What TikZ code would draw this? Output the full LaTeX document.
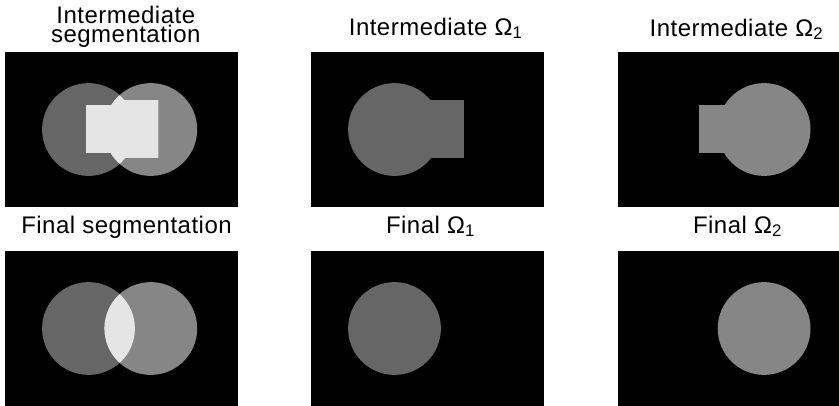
\documentclass[tikz,border=0pt]{standalone}
\usepackage{fontspec}
\setmainfont{Liberation Sans}
\usetikzlibrary{positioning}
\definecolor{segdark}{HTML}{666666}
\definecolor{segmid}{HTML}{868686}
\definecolor{seglight}{HTML}{E5E5E5}

% the two discs and the two bars, in panel coordinates
\newcommand{\discA}{(83.5,77.5) circle (46.4)}
\newcommand{\discB}{(145.8,77.5) circle (46.4)}
\newcommand{\barA}{(83.5,48) rectangle (153.3,105.7)}
\newcommand{\barB}{(80.7,53) rectangle (145.8,101.3)}

\tikzset{
  title/.style={font=\fontsize{24}{17.5}\selectfont\addfontfeature{LetterSpace=2}, anchor=base, align=center, inner sep=0pt},
  panel/.style={fill=black}
}

\begin{document}
\begin{tikzpicture}[x=1pt, y=-1pt]
\useasboundingbox (0,0) rectangle (839,405);
\clip (0,0) rectangle (839,405);

% titles (a two-line node sits on its last baseline)
\node[title] (tInterSeg) at (125.8,42) {Intermediate\\segmentation};
\node[title] (tInterA) at (435.7,35) {Intermediate Ω\textsubscript{1}};
\node[title] (tInterB) at (736.5,36) {Intermediate Ω\textsubscript{2}};
\node[title] (tFinalSeg) at (126.5,233.3) {Final segmentation};
\node[title] (tFinalA) at (430.5,233) {Final Ω\textsubscript{1}};
\node[title] (tFinalB) at (737.5,233) {Final Ω\textsubscript{2}};

% intermediate segmentation
\begin{scope}[shift={(5,52)}]
\fill[panel] (0,0) rectangle (233,154.7);
\fill[segdark] \discA;
\fill[segmid] \discB;
\begin{scope}
\clip \discA;
\fill[seglight] \discB;
\fill[seglight] \barB;
\end{scope}
\begin{scope}
\clip \barA;
\fill[seglight] \discB;
\fill[seglight] \barB;
\end{scope}
\end{scope}

% intermediate omega 1
\begin{scope}[shift={(311,52)}]
\fill[panel] (0,0) rectangle (233,154.7);
\fill[segdark] \discA;
\fill[segdark] \barA;
\end{scope}

% intermediate omega 2
\begin{scope}[shift={(618.3,52)}]
\fill[panel] (0,0) rectangle (233,154.7);
\fill[segmid] \discB;
\fill[segmid] \barB;
\end{scope}

% final segmentation
\begin{scope}[shift={(5,251)}]
\fill[panel] (0,0) rectangle (233,155);
\fill[segdark] \discA;
\fill[segmid] \discB;
\begin{scope}
\clip \discA;
\fill[seglight] \discB;
\end{scope}
\end{scope}

% final omega 1
\begin{scope}[shift={(311,251)}]
\fill[panel] (0,0) rectangle (233,155);
\fill[segdark] \discA;
\end{scope}

% final omega 2
\begin{scope}[shift={(618.3,251)}]
\fill[panel] (0,0) rectangle (233,155);
\fill[segmid] \discB;
\end{scope}
\end{tikzpicture}
\end{document}
